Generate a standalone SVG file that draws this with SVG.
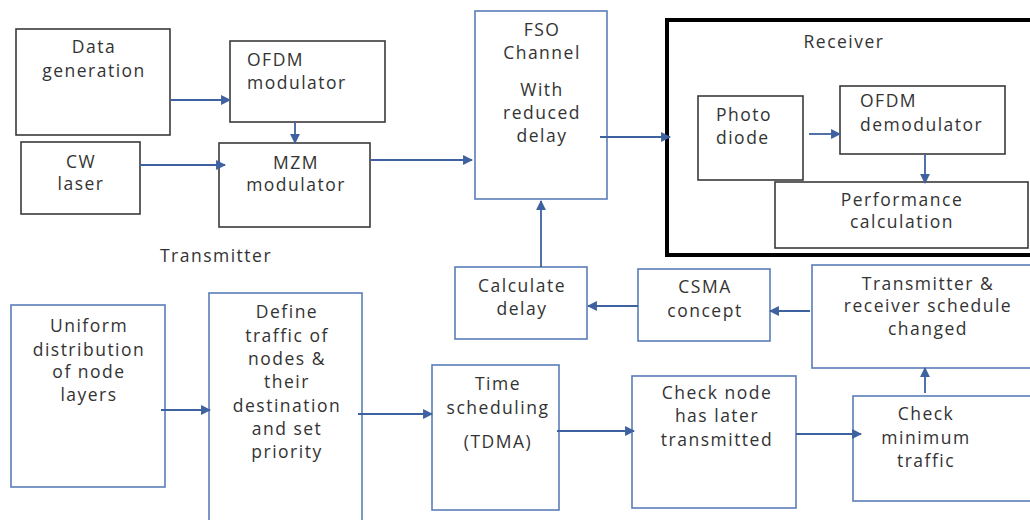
<svg xmlns="http://www.w3.org/2000/svg" width="1030" height="520" viewBox="0 0 1030 520">
<style>
.bk{fill:#fff;stroke:#3a3a3a;stroke-width:1.6}
.bl{fill:#fff;stroke:#5a7db8;stroke-width:1.6}
.rx{fill:#fff;stroke:#000;stroke-width:4}
text{font-family:"Open Sans","Noto Sans",sans-serif;font-size:17.5px;fill:#333;letter-spacing:1.5px}
.c{text-anchor:middle}
.cn line{stroke:#3e62a0;stroke-width:1.8;marker-end:url(#ah)}
</style>
<defs>
<marker id="ah" viewBox="0 0 10 10" refX="9" refY="5" markerWidth="5.5" markerHeight="5.5" orient="auto" markerUnits="strokeWidth">
<path d="M0,0 L10,5 L0,10 Z" fill="#3e62a0"/>
</marker>
</defs>
<g id="receiver"><rect class="rx" x="667" y="20" width="365" height="235"/><text class="c" x="844" y="48">Receiver</text></g>
<g id="data-generation"><rect class="bk" x="16" y="29" width="154" height="106"/><text class="c" x="94" y="53">Data</text><text class="c" x="94" y="77">generation</text></g>
<g id="ofdm-modulator"><rect class="bk" x="230" y="41" width="155" height="81"/><text x="247" y="66">OFDM</text><text x="247" y="89">modulator</text></g>
<g id="cw-laser"><rect class="bk" x="21" y="142" width="119" height="72"/><text class="c" x="81" y="168">CW</text><text class="c" x="81" y="190">laser</text></g>
<g id="mzm-modulator"><rect class="bk" x="219" y="143" width="151" height="84"/><text class="c" x="296" y="169">MZM</text><text class="c" x="296" y="191">modulator</text></g>
<text class="c" x="216" y="262">Transmitter</text>
<g id="fso-channel"><rect class="bl" x="475" y="11" width="132" height="188"/><text class="c" x="542" y="36">FSO</text><text class="c" x="542" y="59">Channel</text><text class="c" x="542" y="96">With</text><text class="c" x="542" y="119">reduced</text><text class="c" x="542" y="142">delay</text></g>
<g id="photo-diode"><rect class="bk" x="698" y="96" width="105" height="84"/><text x="716" y="121">Photo</text><text x="716" y="144">diode</text></g>
<g id="ofdm-demodulator"><rect class="bk" x="840" y="86" width="165" height="68"/><text x="860" y="107">OFDM</text><text x="860" y="131">demodulator</text></g>
<g id="performance-calculation"><rect class="bk" x="775" y="182" width="253" height="66"/><text class="c" x="902" y="206">Performance</text><text class="c" x="902" y="228">calculation</text></g>
<g id="calculate-delay"><rect class="bl" x="455" y="267" width="132" height="72"/><text class="c" x="522" y="292">Calculate</text><text class="c" x="522" y="315">delay</text></g>
<g id="csma-concept"><rect class="bl" x="638" y="269" width="132" height="72"/><text class="c" x="705" y="293">CSMA</text><text class="c" x="705" y="317">concept</text></g>
<g id="schedule-changed"><rect class="bl" x="812" y="265" width="222" height="103"/><text class="c" x="928" y="290">Transmitter &amp;</text><text class="c" x="928" y="312">receiver schedule</text><text class="c" x="928" y="335">changed</text></g>
<g id="uniform-distribution"><rect class="bl" x="11" y="305" width="154" height="182"/><text class="c" x="89" y="332">Uniform</text><text class="c" x="89" y="356">distribution</text><text class="c" x="89" y="378">of node</text><text class="c" x="89" y="401">layers</text></g>
<g id="define-traffic"><rect class="bl" x="209" y="293" width="153" height="240"/><text class="c" x="287" y="318">Define</text><text class="c" x="287" y="342">traffic of</text><text class="c" x="287" y="365">nodes &amp;</text><text class="c" x="287" y="388">their</text><text class="c" x="287" y="412">destination</text><text class="c" x="287" y="435">and set</text><text class="c" x="287" y="458">priority</text></g>
<g id="time-scheduling"><rect class="bl" x="432" y="365" width="127" height="145"/><text class="c" x="498" y="390">Time</text><text class="c" x="498" y="414">scheduling</text><text class="c" x="498" y="448">(TDMA)</text></g>
<g id="check-node"><rect class="bl" x="632" y="376" width="164" height="132"/><text class="c" x="717" y="399">Check node</text><text class="c" x="717" y="422">has later</text><text class="c" x="717" y="446">transmitted</text></g>
<g id="check-minimum"><rect class="bl" x="853" y="396" width="181" height="105"/><text class="c" x="926" y="420">Check</text><text class="c" x="926" y="444">minimum</text><text class="c" x="926" y="467">traffic</text></g>
<g id="connectors" class="cn">
<line x1="170" y1="100" x2="230" y2="100"/>
<line x1="295" y1="122" x2="295" y2="143"/>
<line x1="140" y1="165" x2="225" y2="165"/>
<line x1="370" y1="160" x2="472" y2="160"/>
<line x1="600" y1="137" x2="670" y2="137"/>
<line x1="809" y1="134" x2="840" y2="134"/>
<line x1="925" y1="154" x2="925" y2="183"/>
<line x1="541" y1="267" x2="541" y2="201"/>
<line x1="638" y1="306" x2="588" y2="306"/>
<line x1="810" y1="311" x2="770" y2="311"/>
<line x1="161" y1="410" x2="210" y2="410"/>
<line x1="358" y1="414" x2="432" y2="414"/>
<line x1="557" y1="431" x2="634" y2="431"/>
<line x1="796" y1="434" x2="861" y2="434"/>
<line x1="925" y1="393" x2="925" y2="368"/>
</g>
</svg>
